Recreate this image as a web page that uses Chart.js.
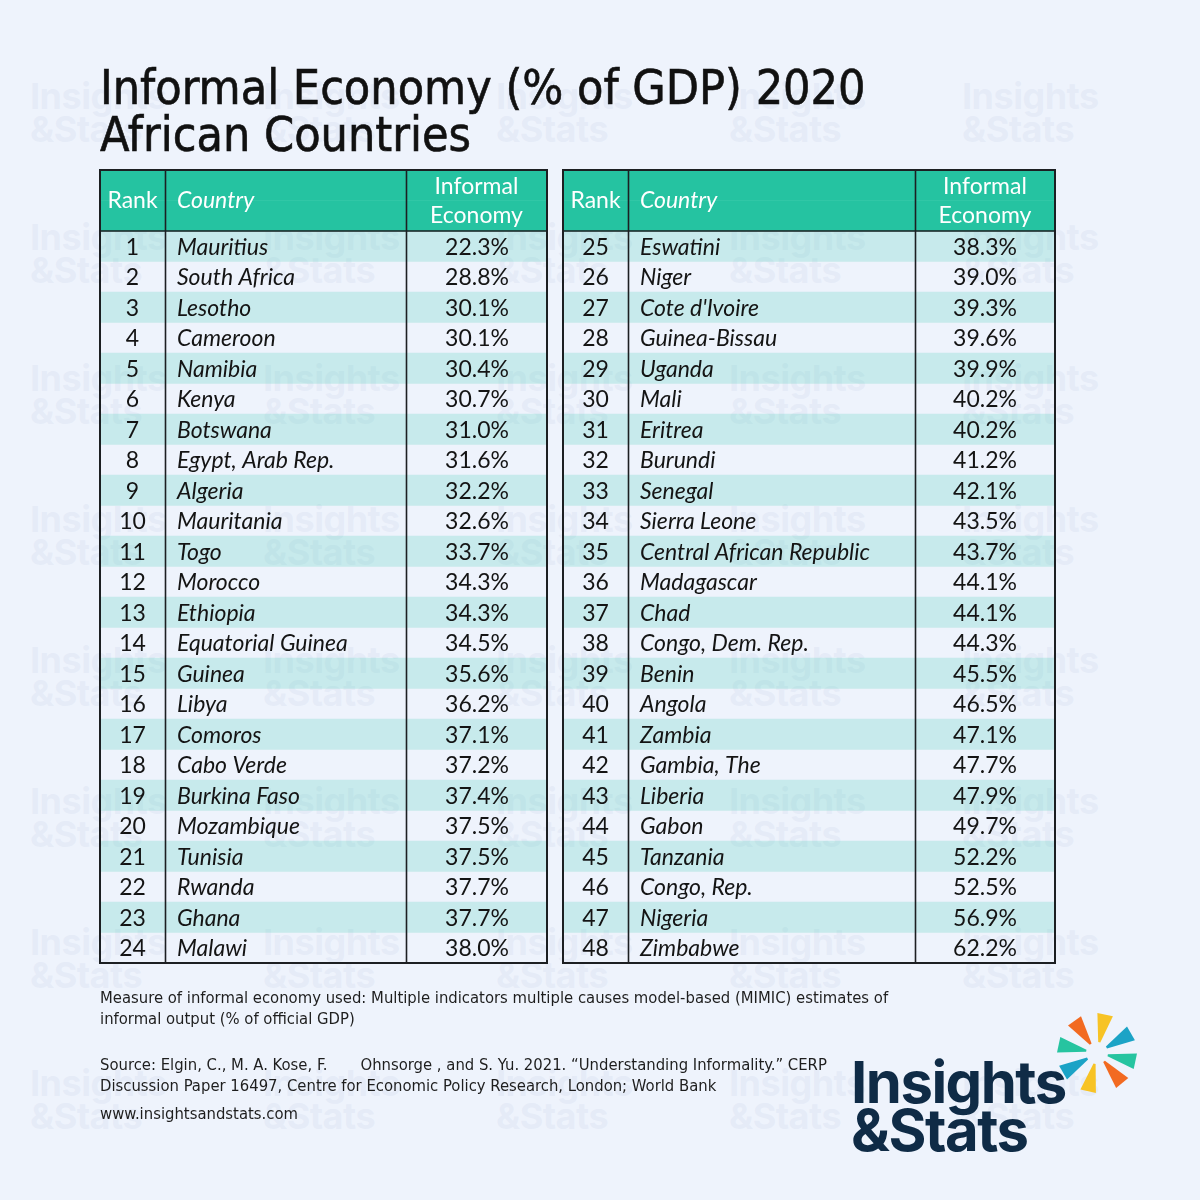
<!DOCTYPE html>
<html>
<head>
<meta charset="utf-8">
<script src="https://cdn.jsdelivr.net/npm/chart.js@4.4.1/dist/chart.umd.min.js"></script>
<style>
  html, body { margin: 0; padding: 0; }
  body { width: 1200px; height: 1200px; background: #eef3fc; position: relative; overflow: hidden; font-family: 'Liberation Sans Narrow', 'DejaVu Sans Condensed', sans-serif; color: #141414; }
  .wm { position: absolute; font-family: 'Inter', 'DejaVu Sans', sans-serif; font-weight: 700; font-size: 36px; line-height: 33px; color: rgba(190, 204, 228, 0.2); letter-spacing: -0.5px; }
  #chart { position: absolute; left: 0; top: 0; z-index: 1; }
  .txt { position: absolute; z-index: 2; white-space: nowrap; }
  .title { left: 100px; font-size: 48px; line-height: 47px; top: 64px; color: #111; -webkit-text-stroke: 0.6px #111; }
  .note { left: 100px; font-size: 16.5px; line-height: 21px; color: #1e1e1e; }
  .logo { left: 851px; top: 1058px; font-family: 'Inter', 'DejaVu Sans', sans-serif; font-weight: 700; font-size: 58px; line-height: 48px; color: #0f2b46; letter-spacing: -1.5px; }
  #burst { position: absolute; left: 1047px; top: 1003px; z-index: 2; }
</style>
</head>
<body>
<div id="wm"></div>
<canvas id="chart" width="1200" height="1200"></canvas>
<div class="txt title">Informal Economy (% of GDP) 2020<br>African Countries</div>
<div class="txt note" style="top:987px">Measure of informal economy used: Multiple indicators multiple causes model-based (MIMIC) estimates of<br>informal output (% of official GDP)</div>
<div class="txt note" style="top:1054px">Source: Elgin, C., M. A. Kose, F.&nbsp;&nbsp;&nbsp;&nbsp;&nbsp;&nbsp;&nbsp;Ohnsorge , and S. Yu. 2021. “Understanding Informality.” CERP<br>Discussion Paper 16497, Centre for Economic Policy Research, London; World Bank</div>
<div class="txt note" style="top:1103px">www.insightsandstats.com</div>
<div class="txt logo">Insights<br>&amp;Stats</div>
<svg id="burst" width="100" height="100" viewBox="-50 -50 100 100"></svg>
<script>
// Table data
const countries = [
    'Mauritius', 'South Africa', 'Lesotho', 'Cameroon', 'Namibia', 'Kenya',
    'Botswana', 'Egypt, Arab Rep.', 'Algeria', 'Mauritania', 'Togo', 'Morocco',
    'Ethiopia', 'Equatorial Guinea', 'Guinea', 'Libya', 'Comoros', 'Cabo Verde',
    'Burkina Faso', 'Mozambique', 'Tunisia', 'Rwanda', 'Ghana', 'Malawi',
    'Eswatini', 'Niger', "Cote d'Ivoire", 'Guinea-Bissau', 'Uganda', 'Mali',
    'Eritrea', 'Burundi', 'Senegal', 'Sierra Leone', 'Central African Republic', 'Madagascar',
    'Chad', 'Congo, Dem. Rep.', 'Benin', 'Angola', 'Zambia', 'Gambia, The',
    'Liberia', 'Gabon', 'Tanzania', 'Congo, Rep.', 'Nigeria', 'Zimbabwe'
];
const informalShare = [
    22.3, 28.8, 30.1, 30.1, 30.4, 30.7, 31.0, 31.6, 32.2, 32.6, 33.7, 34.3,
    34.3, 34.5, 35.6, 36.2, 37.1, 37.2, 37.4, 37.5, 37.5, 37.7, 37.7, 38.0,
    38.3, 39.0, 39.3, 39.6, 39.9, 40.2, 40.2, 41.2, 42.1, 43.5, 43.7, 44.1,
    44.1, 44.3, 45.5, 46.5, 47.1, 47.7, 47.9, 49.7, 52.2, 52.5, 56.9, 62.2
];
const headerLabels = ['Rank', 'Country', 'Informal', 'Economy'];

const ROWS_PER_TABLE = 24;
// two category slots for the header, one per data row
const rowKeys = ['head-a', 'head-b'];
for (let i = 0; i < ROWS_PER_TABLE; i++) rowKeys.push('row-' + (i + 1));

// column edges in page pixels (x scale runs 0..1200)
const tables = [
    { from: 100, rank: 165, country: 406, to: 547, offset: 0 },
    { from: 563, rank: 628, country: 915, to: 1055, offset: ROWS_PER_TABLE }
];

const HEADER_TEAL = '#25c3a1';
const STRIPE_TEAL = 'rgba(90, 210, 190, 0.26)';
const LINE_COLOR = '#1c1f22';
const TEXT_FONT = "'Lato', 'Noto Sans', sans-serif";

function headerBars(t) {
    return rowKeys.map((k, i) => i < 2 ? [t.from, t.to] : null);
}
function stripeBars(t) {
    return rowKeys.map((k, i) => (i >= 2 && (i - 2) % 2 === 0) ? [t.from, t.to] : null);
}

const datasets = [];
tables.forEach(t => {
    datasets.push({ data: headerBars(t), backgroundColor: HEADER_TEAL, grouped: false, barPercentage: 1, categoryPercentage: 1 });
    datasets.push({ data: stripeBars(t), backgroundColor: STRIPE_TEAL, grouped: false, barPercentage: 1, categoryPercentage: 1 });
});

// draws text and rules on top of the bars, placed with the chart scales
const tablePlugin = {
    id: 'tableText',
    afterDatasetsDraw(chart) {
        const ctx = chart.ctx;
        const x = chart.scales.x;
        const y = chart.scales.y;
        const slot = y.getPixelForValue(1) - y.getPixelForValue(0);
        const top = y.getPixelForValue(0) - slot / 2;
        const headBottom = y.getPixelForValue(1) + slot / 2;
        const bottom = y.getPixelForValue(rowKeys.length - 1) + slot / 2;
        const headMid = (top + headBottom) / 2;

        ctx.save();
        tables.forEach(t => {
            // header text
            ctx.fillStyle = '#ffffff';
            ctx.textBaseline = 'middle';
            ctx.font = '23px ' + TEXT_FONT;
            ctx.textAlign = 'center';
            ctx.fillText(headerLabels[0], (x.getPixelForValue(t.from) + x.getPixelForValue(t.rank)) / 2, headMid);
            ctx.font = 'italic 23px ' + TEXT_FONT;
            ctx.textAlign = 'left';
            ctx.fillText(headerLabels[1], x.getPixelForValue(t.rank) + 12, headMid);
            ctx.font = '23px ' + TEXT_FONT;
            ctx.textAlign = 'center';
            const cx = (x.getPixelForValue(t.country) + x.getPixelForValue(t.to)) / 2;
            ctx.fillText(headerLabels[2], cx, headMid - 14);
            ctx.fillText(headerLabels[3], cx, headMid + 15);

            // rows
            ctx.fillStyle = '#141414';
            for (let i = 0; i < ROWS_PER_TABLE; i++) {
                const idx = t.offset + i;
                const py = y.getPixelForValue(i + 2) + 1;
                ctx.font = '23px ' + TEXT_FONT;
                ctx.textAlign = 'center';
                ctx.fillText(String(idx + 1), (x.getPixelForValue(t.from) + x.getPixelForValue(t.rank)) / 2, py);
                ctx.font = 'italic 23px ' + TEXT_FONT;
                ctx.textAlign = 'left';
                ctx.fillText(countries[idx], x.getPixelForValue(t.rank) + 12, py);
                ctx.font = '23px ' + TEXT_FONT;
                ctx.textAlign = 'right';
                ctx.fillText(informalShare[idx].toFixed(1) + '%', x.getPixelForValue(t.to) - 38, py);
            }

            // rules
            ctx.strokeStyle = LINE_COLOR;
            ctx.lineWidth = 2;
            const l = x.getPixelForValue(t.from), r = x.getPixelForValue(t.to);
            ctx.strokeRect(l, top, r - l, bottom - top);
            ctx.lineWidth = 1.6;
            ctx.beginPath();
            [t.rank, t.country].forEach(v => {
                const px = Math.round(x.getPixelForValue(v)) + 0.5;
                ctx.moveTo(px, top);
                ctx.lineTo(px, bottom);
            });
            ctx.moveTo(l, headBottom);
            ctx.lineTo(r, headBottom);
            ctx.stroke();
        });
        ctx.restore();
    }
};

new Chart(document.getElementById('chart'), {
    type: 'bar',
    data: { labels: rowKeys, datasets: datasets },
    options: {
        indexAxis: 'y',
        responsive: false,
        animation: false,
        devicePixelRatio: 1,
        layout: { padding: { top: 170, bottom: 237, left: 0, right: 0 } },
        scales: {
            x: { type: 'linear', min: 0, max: 1200, display: false },
            y: { type: 'category', display: false }
        },
        plugins: { legend: { display: false }, tooltip: { enabled: false } }
    },
    plugins: [tablePlugin]
});

// faint watermark grid
const wm = document.getElementById('wm');
for (let j = 0; j < 8; j++) {
    for (let k = 0; k < 5; k++) {
        const d = document.createElement('div');
        d.className = 'wm';
        d.style.left = (30 + 233 * k) + 'px';
        d.style.top = (80 + 141 * j) + 'px';
        d.innerHTML = 'Insights<br>&amp;Stats';
        wm.appendChild(d);
    }
}

// logo starburst
const rays = [
    [-78, '#f7c325'], [-125, '#f26a21'], [-30, '#1ba3c6'], [-168, '#26c4a0'],
    [12, '#26c4a0'], [150, '#1ba3c6'], [103, '#f7c325'], [50, '#f26a21']
];
const svg = document.getElementById('burst');
rays.forEach(([deg, col]) => {
    const a = deg * Math.PI / 180, w = 0.2;
    const r0 = 11, r1 = 40;
    const pts = [
        [r0 * Math.cos(a - w / 2), r0 * Math.sin(a - w / 2)],
        [r1 * Math.cos(a - w), r1 * Math.sin(a - w)],
        [r1 * Math.cos(a + w), r1 * Math.sin(a + w)],
        [r0 * Math.cos(a + w / 2), r0 * Math.sin(a + w / 2)]
    ];
    const p = document.createElementNS('http://www.w3.org/2000/svg', 'polygon');
    p.setAttribute('points', pts.map(q => q[0].toFixed(1) + ',' + q[1].toFixed(1)).join(' '));
    p.setAttribute('fill', col);
    svg.appendChild(p);
});
</script>
</body>
</html>
